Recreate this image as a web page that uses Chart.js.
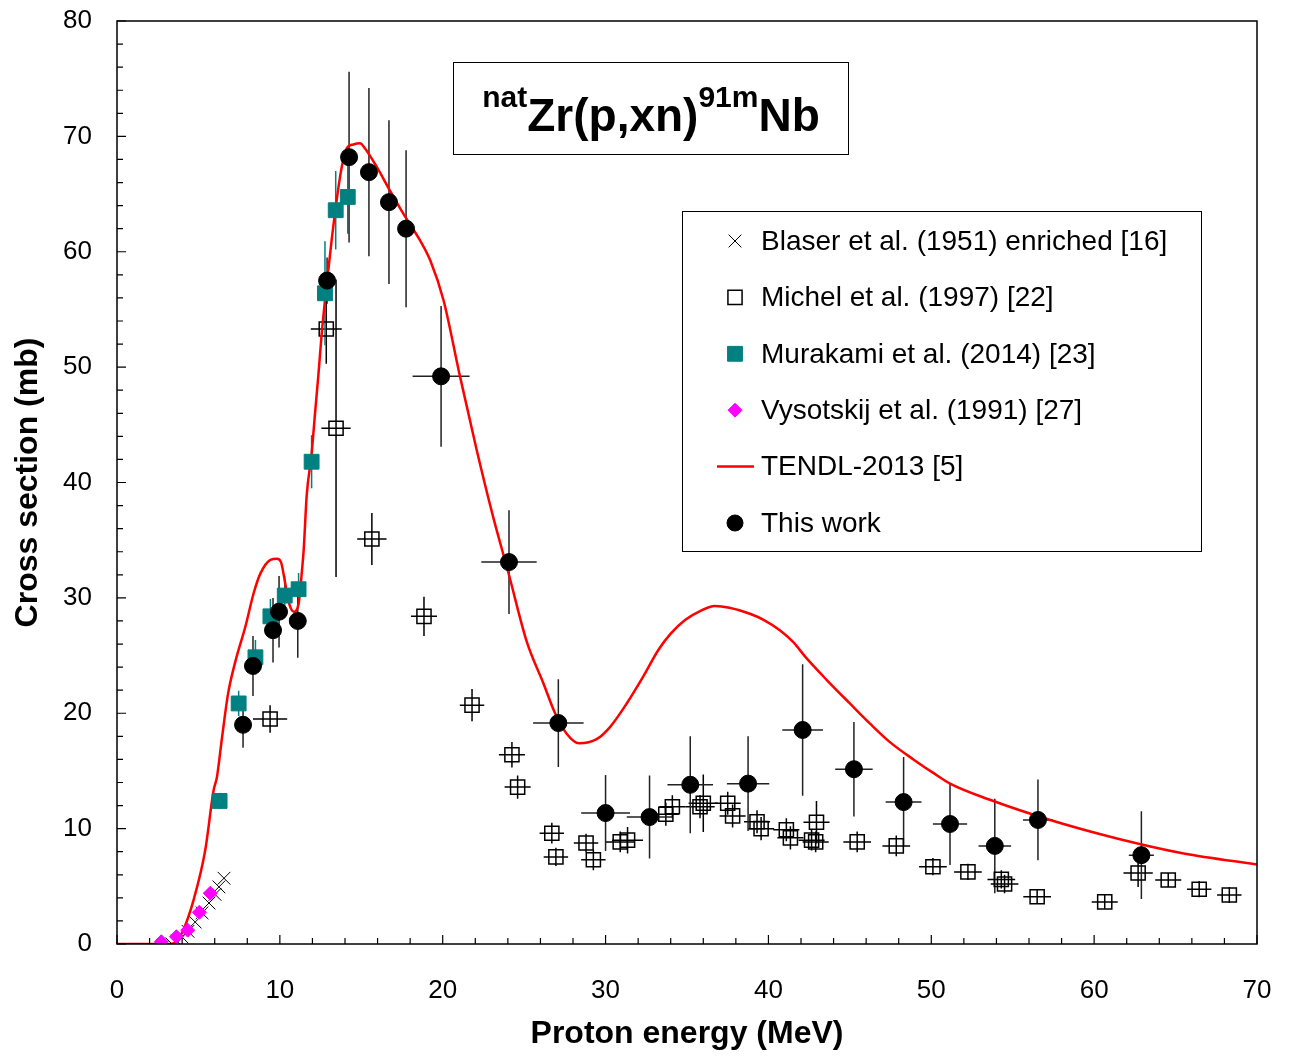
<!DOCTYPE html>
<html>
<head>
<meta charset="utf-8">
<script src="https://cdn.jsdelivr.net/npm/chart.js@4.4.1/dist/chart.umd.min.js"></script>
<style>
  html, body { margin: 0; padding: 0; background: #fff; }
</style>
</head>
<body>
<canvas id="xsChart" width="1292" height="1057"></canvas>
<script>
const FONT = "'Liberation Sans', Arial, Helvetica, sans-serif";

// This work: energy, cross section, errors
const workE   = [7.74, 8.35, 9.58, 9.95, 11.1, 12.9, 14.25, 15.47, 16.7, 17.75, 19.9, 24.07, 27.1, 30.0, 32.7, 35.2, 38.75, 42.1, 45.25, 48.3, 51.15, 53.9, 56.55, 62.9];
const workXS  = [19.0, 24.1, 27.2, 28.8, 28.0, 57.5, 68.2, 66.9, 64.3, 62.0, 49.2, 33.1, 19.15, 11.35, 11.0, 13.8, 13.9, 18.55, 15.15, 12.3, 10.4, 8.5, 10.75, 7.7];
const workDE  = [0.5, 0.5, 0.5, 0.5, 0.45, 0.45, 0.4, 0.4, 0.4, 0.4, 1.75, 1.7, 1.55, 1.5, 1.4, 1.4, 1.3, 1.25, 1.15, 1.1, 1.05, 1.0, 0.92, 0.77];
const workDXS = [2.0, 2.6, 2.8, 3.1, 3.2, 2.0, 7.4, 7.3, 7.1, 6.8, 6.1, 4.5, 3.8, 3.3, 3.6, 4.2, 4.1, 5.7, 4.1, 3.9, 3.55, 4.1, 3.5, 3.8];

// Michel et al. (1997)
const michelE   = [9.4, 12.85, 13.45, 15.65, 18.85, 21.8, 24.25, 24.6, 26.7, 26.95, 28.8, 29.25, 30.9, 31.35, 33.7, 34.1, 35.8, 36.0, 37.5, 37.8, 39.3, 39.55, 41.1, 41.35, 42.65, 42.95, 42.9, 45.45, 47.85, 50.1, 52.25, 54.3, 54.5, 56.5, 60.65, 62.7, 64.55, 66.45, 68.3];
const michelXS  = [19.5, 53.3, 44.7, 35.1, 28.4, 20.7, 16.4, 13.6, 9.6, 7.55, 8.75, 7.3, 8.85, 9.0, 11.25, 11.9, 11.9, 12.2, 12.2, 11.1, 10.6, 10.0, 9.9, 9.2, 9.0, 10.55, 8.85, 8.85, 8.5, 6.7, 6.25, 5.6, 5.2, 4.1, 3.65, 6.15, 5.55, 4.75, 4.25];
const michelDE  = [1.05, 0.95, 0.9, 0.9, 0.8, 0.75, 0.8, 0.8, 0.75, 0.75, 0.75, 0.75, 0.9, 0.95, 0.8, 0.8, 0.9, 0.9, 0.8, 0.8, 0.8, 0.8, 0.8, 0.8, 0.8, 0.8, 0.8, 0.85, 0.85, 0.85, 0.85, 0.85, 0.85, 0.85, 0.8, 0.9, 0.8, 0.75, 0.75];
const michelDXS = [1.2, 3.0, 12.9, 2.25, 1.7, 1.4, 1.1, 1.0, 0.9, 0.8, 0.8, 0.9, 0.9, 1.15, 1.0, 1.0, 1.0, 2.5, 1.0, 1.0, 1.0, 1.0, 1.0, 1.0, 0.9, 1.85, 0.9, 0.9, 0.9, 0.75, 0.7, 0.8, 0.8, 0.6, 0.6, 1.2, 0.6, 0.7, 0.7];

// Murakami et al. (2014)
const murakamiE   = [6.3, 7.47, 8.5, 9.42, 10.3, 11.15, 11.95, 12.77, 13.43, 14.17];
const murakamiXS  = [12.4, 20.85, 24.85, 28.4, 30.2, 30.75, 41.8, 56.4, 63.6, 64.75];
const murakamiDXS = [0.7, 1.1, 1.5, 1.5, 1.7, 1.4, 2.3, 4.5, 3.4, 3.2];

// Vysotskij et al. (1991)
const vysotskijE  = [2.72, 3.65, 4.34, 5.06, 5.73];
const vysotskijXS = [0.2, 0.63, 1.2, 2.75, 4.4];

// Blaser et al. (1951) enriched
const blaserE  = [3.38, 3.68, 4.0, 4.36, 4.8, 5.22, 5.65, 6.02, 6.26, 6.57];
const blaserXS = [0.0, 0.25, 0.6, 1.1, 1.9, 2.7, 3.55, 4.3, 4.95, 5.7];

// TENDL-2013
const tendlE  = [0, 3.3, 3.7, 4.1, 4.7, 5.42, 5.93, 6.14, 6.45, 6.82, 7.27, 7.88, 8.39, 8.8, 9.42, 9.83, 10.07, 10.33, 10.54, 10.85, 11.15, 11.36, 11.46, 11.65, 11.95, 12.16, 12.37, 12.57, 12.88, 13.18, 13.49, 13.8, 14.1, 14.51, 14.92, 15.23, 15.95, 16.76, 17.58, 18.6, 19.25, 20.05, 21.06, 22.09, 23.1, 24.03, 25.16, 26.18, 26.9, 27.6, 28.37, 29.45, 30.27, 31.3, 32.3, 33.25, 34.0, 34.9, 35.8, 36.7, 37.6, 38.9, 39.7, 40.7, 41.5, 42.35, 43.57, 45.0, 46.24, 47.46, 48.9, 50.1, 51.15, 53.6, 57.3, 61.4, 65.5, 70];
const tendlXS = [0, 0, 0.3, 1.3, 3.8, 8.15, 13.3, 14.5, 17.9, 21.7, 24.5, 27.5, 30.4, 32.1, 33.3, 33.4, 33.1, 31.25, 29.65, 28.8, 29.5, 32.4, 34.1, 38.9, 42.5, 46.0, 49.4, 52.9, 57.2, 61.0, 64.5, 67.35, 68.95, 69.3, 69.4, 68.95, 67.35, 65.3, 63.3, 61.0, 59.2, 55.8, 49.2, 42.8, 37.0, 32.2, 26.2, 22.6, 20.0, 18.25, 17.4, 17.75, 18.8, 20.85, 23.15, 25.5, 26.9, 28.1, 28.85, 29.3, 29.15, 28.6, 28.1, 27.2, 26.2, 24.75, 22.9, 20.85, 19.1, 17.5, 16.0, 14.85, 13.9, 12.5, 10.75, 9.15, 7.85, 6.9];

const pts = (xs, ys) => xs.map((x, i) => ({ x: x, y: ys[i] }));

// error bars drawn through the chart's scales
const errorBars = {
  id: 'errorBars',
  beforeDatasetsDraw(chart) {
    const ctx = chart.ctx, xs = chart.scales.x, ys = chart.scales.y;
    ctx.save();
    chart.data.datasets.forEach(ds => {
      if (!ds.errY) return;
      ctx.strokeStyle = ds.errColor;
      ctx.lineWidth = 1.5;
      ds.data.forEach((p, i) => {
        const px = xs.getPixelForValue(p.x), py = ys.getPixelForValue(p.y);
        const dy = ds.errY[i], dx = ds.errX ? ds.errX[i] : 0;
        ctx.beginPath();
        ctx.moveTo(px, ys.getPixelForValue(p.y - dy));
        ctx.lineTo(px, ys.getPixelForValue(p.y + dy));
        if (dx) {
          ctx.moveTo(xs.getPixelForValue(p.x - dx), py);
          ctx.lineTo(xs.getPixelForValue(p.x + dx), py);
        }
        ctx.stroke();
      });
    });
    ctx.restore();
  }
};

// frame, inward ticks, title box and legend box
const decorations = {
  id: 'decorations',
  afterDraw(chart) {
    const ctx = chart.ctx, ca = chart.chartArea, xs = chart.scales.x, ys = chart.scales.y;
    ctx.save();
    ctx.strokeStyle = '#000';
    ctx.lineWidth = 1.5;
    ctx.strokeRect(ca.left, ca.top, ca.right - ca.left, ca.bottom - ca.top);
    ctx.lineWidth = 1.2;
    ctx.beginPath();
    for (let v = 0; v <= 70; v += 2) {
      const px = xs.getPixelForValue(v), len = v % 10 === 0 ? 9 : 6;
      ctx.moveTo(px, ca.bottom);
      ctx.lineTo(px, ca.bottom - len);
    }
    for (let v = 0; v <= 80; v += 2) {
      const py = ys.getPixelForValue(v), len = v % 10 === 0 ? 9 : 6;
      ctx.moveTo(ca.left, py);
      ctx.lineTo(ca.left + len, py);
    }
    ctx.stroke();

    // reaction title
    ctx.fillStyle = '#fff';
    ctx.fillRect(453, 62, 395, 92);
    ctx.lineWidth = 1;
    ctx.strokeRect(453.5, 62.5, 395, 92);
    const parts = [['nat', 30, 107], ['Zr(p,xn)', 46, 131], ['91m', 30, 107], ['Nb', 46, 131]];
    let total = 0;
    parts.forEach(p => { ctx.font = `bold ${p[1]}px ${FONT}`; p.push(ctx.measureText(p[0]).width); total += p[3]; });
    let tx = 651 - total / 2;
    ctx.fillStyle = '#000';
    ctx.textBaseline = 'alphabetic';
    ctx.textAlign = 'left';
    parts.forEach(p => {
      ctx.font = `bold ${p[1]}px ${FONT}`;
      ctx.fillText(p[0], tx, p[2]);
      tx += p[3];
    });

    // legend
    ctx.fillStyle = '#fff';
    ctx.fillRect(682, 211, 519, 340);
    ctx.strokeStyle = '#000';
    ctx.strokeRect(682.5, 211.5, 519, 340);
    ctx.font = `28px ${FONT}`;
    ctx.textBaseline = 'middle';
    chart.data.datasets.forEach((ds, i) => {
      const y = 241 + i * 56.4;
      if (ds.showLine) {
        ctx.strokeStyle = ds.borderColor;
        ctx.lineWidth = 2.5;
        ctx.beginPath();
        ctx.moveTo(717, y);
        ctx.lineTo(754, y);
        ctx.stroke();
      } else {
        ctx.fillStyle = ds.backgroundColor;
        ctx.strokeStyle = ds.borderColor;
        ctx.lineWidth = ds.borderWidth;
        Chart.helpers.drawPoint(ctx, { pointStyle: ds.pointStyle, radius: ds.legendRadius, rotation: 0, borderWidth: ds.borderWidth }, 735, y);
      }
      ctx.fillStyle = '#000';
      ctx.fillText(ds.label, 761, y + 1);
    });
    ctx.restore();
  }
};

new Chart(document.getElementById('xsChart'), {
  type: 'scatter',
  data: {
    datasets: [
      {
        label: 'Blaser et al. (1951) enriched [16]',
        data: pts(blaserE, blaserXS),
        pointStyle: 'crossRot', pointRadius: 9, legendRadius: 9,
        borderColor: '#000', backgroundColor: '#000', borderWidth: 1,
        order: 5
      },
      {
        label: 'Michel et al. (1997) [22]',
        data: pts(michelE, michelXS),
        errX: michelDE, errY: michelDXS, errColor: '#000',
        pointStyle: 'rect', pointRadius: 10, legendRadius: 10,
        borderColor: '#000', backgroundColor: 'rgba(0,0,0,0)', borderWidth: 1.5,
        order: 4
      },
      {
        label: 'Murakami et al. (2014) [23]',
        data: pts(murakamiE, murakamiXS),
        errY: murakamiDXS, errColor: '#008080',
        pointStyle: 'rect', pointRadius: 10.5, legendRadius: 10.5,
        borderColor: '#008080', backgroundColor: '#008080', borderWidth: 1,
        order: 2
      },
      {
        label: 'Vysotskij et al. (1991) [27]',
        data: pts(vysotskijE, vysotskijXS),
        pointStyle: 'rectRot', pointRadius: 7, legendRadius: 7,
        borderColor: '#ff00ff', backgroundColor: '#ff00ff', borderWidth: 1,
        order: 1
      },
      {
        label: 'TENDL-2013 [5]',
        data: pts(tendlE, tendlXS),
        showLine: true, pointRadius: 0, borderColor: '#ff0000', backgroundColor: '#ff0000',
        borderWidth: 2.5, cubicInterpolationMode: 'monotone',
        order: 3
      },
      {
        label: 'This work',
        data: pts(workE, workXS),
        errX: workDE, errY: workDXS, errColor: '#222',
        pointStyle: 'circle', pointRadius: 8.5, legendRadius: 8,
        borderColor: '#000', backgroundColor: '#000', borderWidth: 1,
        order: 0
      }
    ]
  },
  options: {
    responsive: false,
    animation: false,
    devicePixelRatio: 1,
    layout: { padding: { left: 0, right: 35, top: 21, bottom: 0 } },
    plugins: { legend: { display: false }, tooltip: { enabled: false } },
    scales: {
      x: {
        type: 'linear', min: 0, max: 70,
        afterFit: s => { s.height = 113; s.paddingLeft = 0; s.paddingRight = 0; },
        ticks: { stepSize: 10, padding: 23, color: '#000', font: { family: FONT, size: 26 }, maxRotation: 0 },
        grid: { display: false },
        border: { display: false },
        title: { display: true, text: 'Proton energy (MeV)', color: '#000', font: { family: FONT, size: 32, weight: 'bold' }, padding: { top: 0, bottom: 4 } }
      },
      y: {
        type: 'linear', min: 0, max: 80,
        afterFit: s => { s.width = 117; s.paddingTop = 0; s.paddingBottom = 0; },
        ticks: { stepSize: 10, padding: 17, color: '#000', font: { family: FONT, size: 26 } },
        grid: { display: false },
        border: { display: false },
        title: { display: true, text: 'Cross section (mb)', color: '#000', font: { family: FONT, size: 32, weight: 'bold' }, padding: { top: 9, bottom: 0 } }
      }
    }
  },
  plugins: [errorBars, decorations]
});
</script>
</body>
</html>
